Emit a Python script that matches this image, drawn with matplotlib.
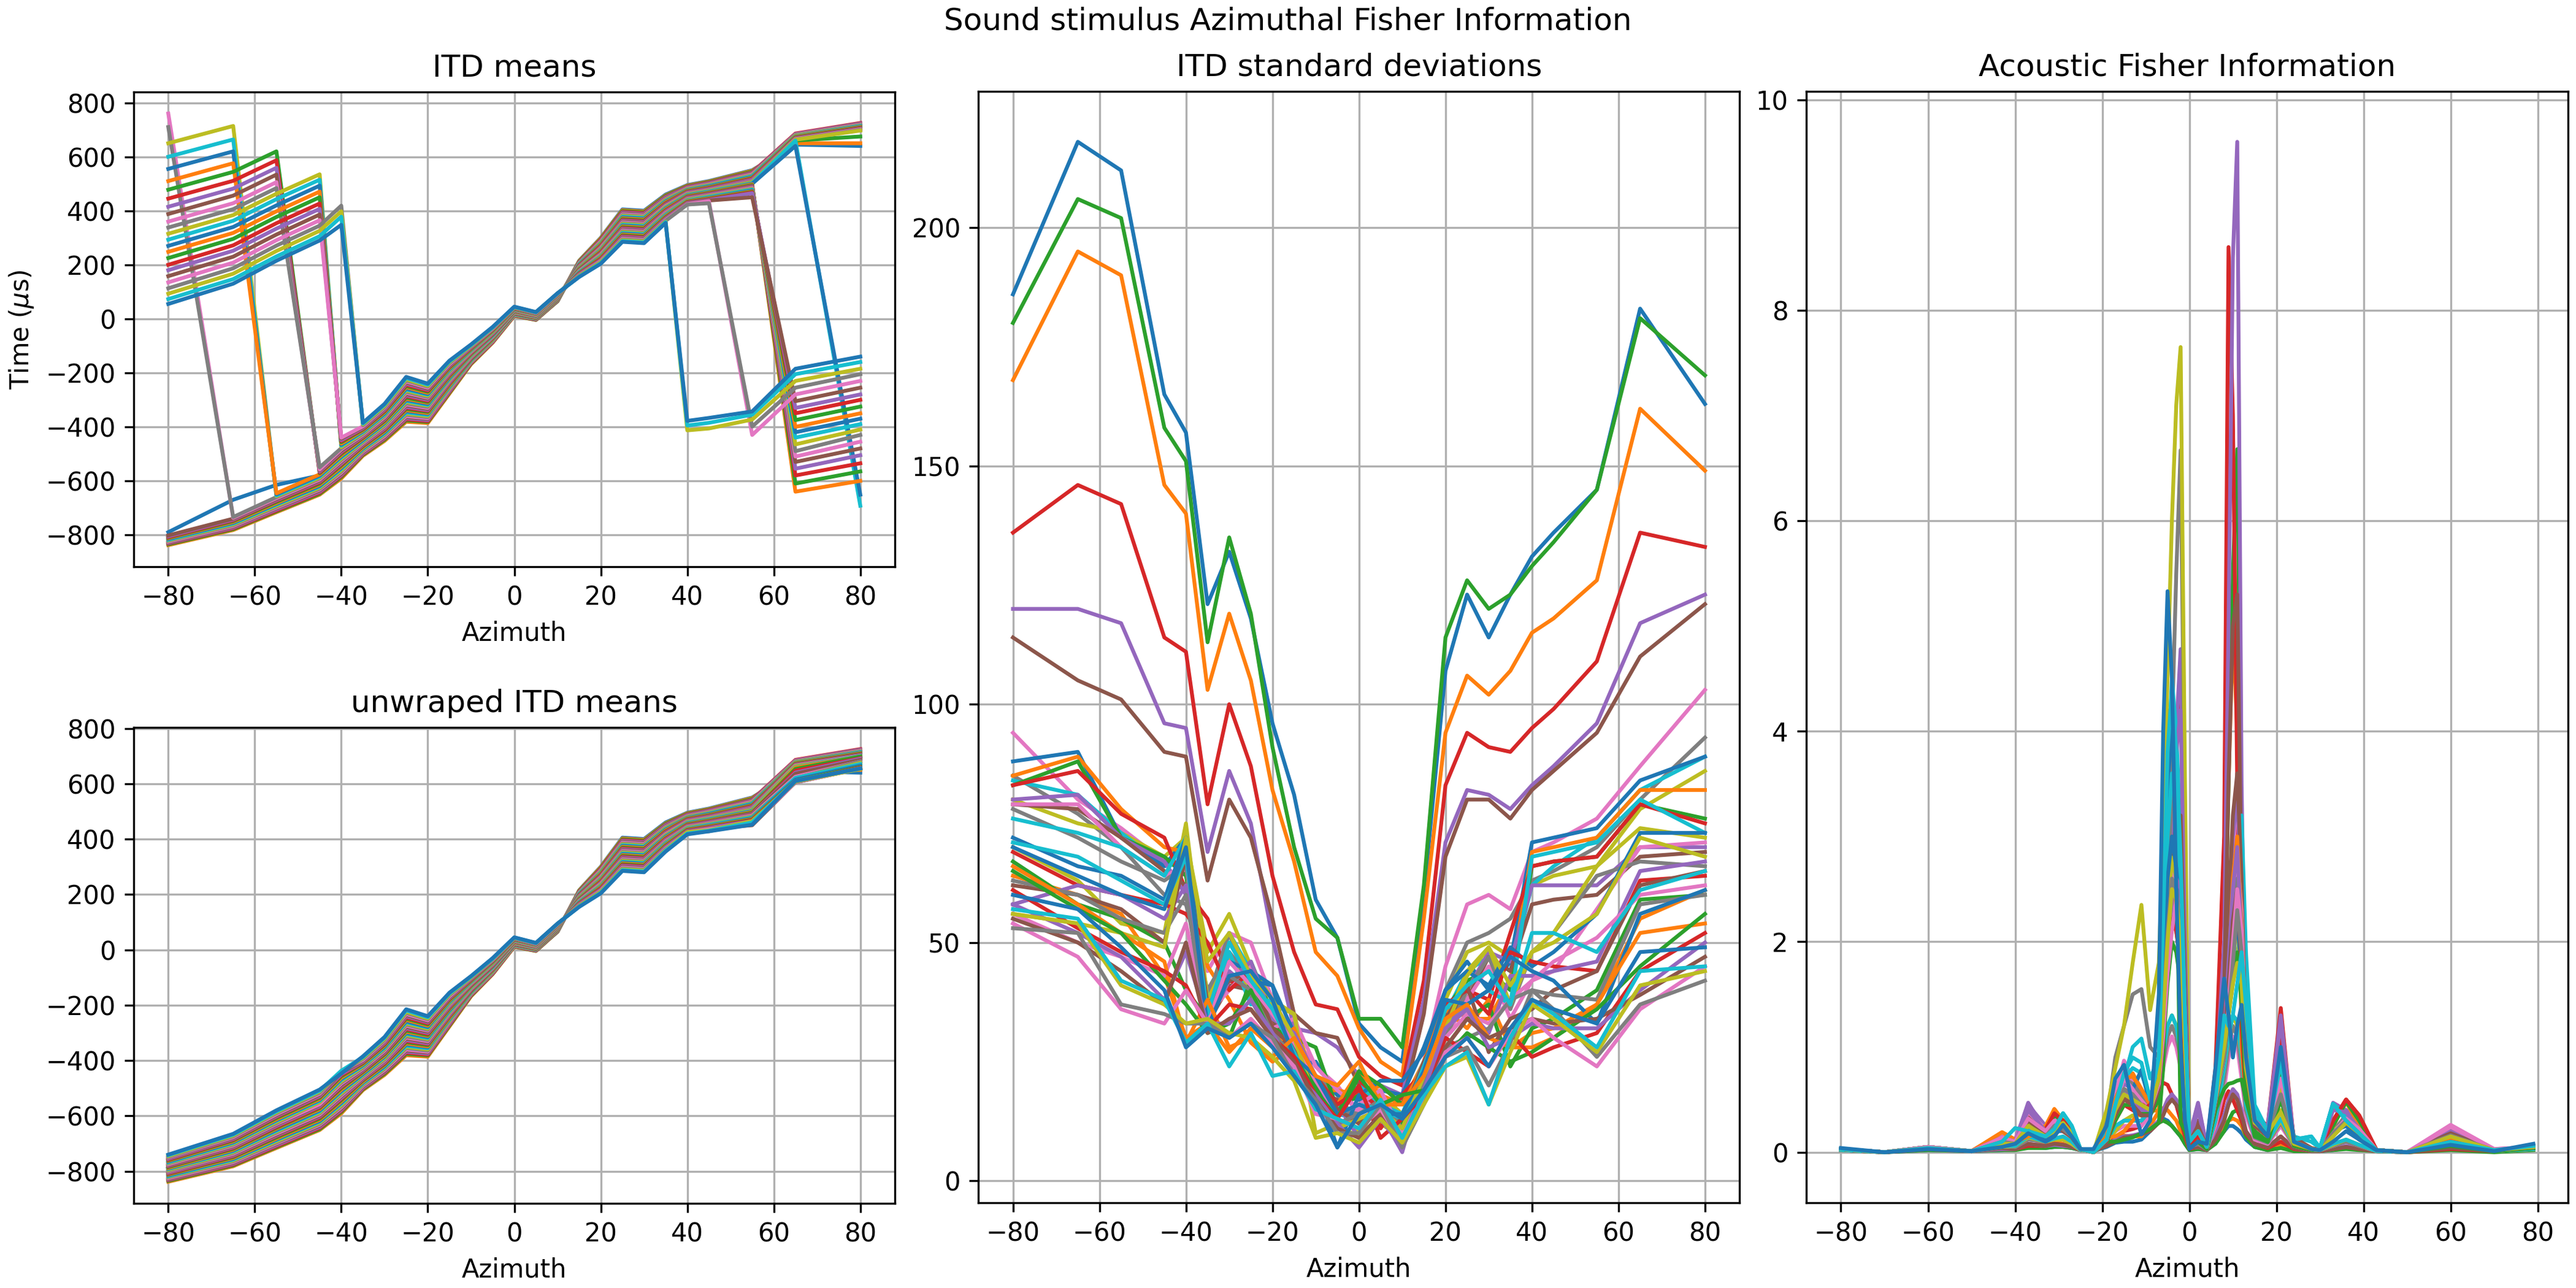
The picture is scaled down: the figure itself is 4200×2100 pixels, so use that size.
import numpy as np
import matplotlib
matplotlib.use('Agg')
import matplotlib.pyplot as plt

azimuths = [-80, -65, -55, -45, -40, -35, -30, -25, -20, -15, -10, -5, 0,
            5, 10, 15, 20, 25, 30, 35, 40, 45, 55, 65, 80]

# period of each frequency channel (us), read from the wrap jumps
channel_periods = [3320, 3130, 2960, 2800, 2650, 2520, 2400, 2285, 2180, 2085,
                   1995, 1910, 1830, 1755, 1685, 1620, 1560, 1508, 1445, 1392,
                   1345, 1298, 1263, 1227, 1195, 1166, 1135, 1110, 1085, 1061,
                   1035, 1010, 985, 958, 935, 910, 885, 861, 838, 815, 795]

# unwrapped ITD means (us): one row per azimuth, one value per channel
itd_unwrapped = [
    [-790, -838, -835, -832, -830, -828, -825, -822, -820, -818, -815, -812, -810, -808, -805, -802, -800, -798, -795, -792, -790, -788, -785, -782, -780, -778, -775, -772, -770, -768, -765, -762, -760, -758, -755, -752, -750, -748, -745, -742, -740],
    [-670, -782, -779, -776, -773, -770, -767, -764, -761, -758, -755, -752, -749, -746, -743, -740, -737, -734, -731, -728, -725, -722, -719, -716, -713, -710, -707, -704, -701, -698, -695, -692, -689, -686, -683, -680, -677, -674, -671, -668, -665],
    [-615, -716, -713, -710, -706, -702, -699, -696, -692, -688, -685, -682, -678, -674, -671, -668, -664, -660, -657, -654, -650, -646, -643, -640, -636, -632, -629, -626, -622, -618, -615, -612, -608, -604, -601, -598, -594, -590, -587, -584, -580],
    [-580, -651, -648, -644, -640, -636, -632, -629, -625, -621, -618, -614, -610, -606, -602, -599, -595, -591, -588, -584, -580, -576, -572, -569, -565, -561, -558, -550, -550, -546, -542, -539, -535, -531, -528, -524, -520, -516, -512, -509, -505],
    [-530, -591, -586, -582, -578, -574, -569, -565, -561, -556, -552, -548, -543, -539, -535, -530, -526, -522, -518, -513, -509, -505, -500, -496, -492, -488, -483, -479, -475, -470, -466, -462, -457, -453, -449, -444, -440, -442, -440, -437, -447],
    [-470, -507, -504, -501, -498, -494, -491, -488, -485, -482, -479, -476, -472, -469, -466, -463, -460, -457, -454, -451, -448, -444, -441, -438, -435, -432, -429, -426, -422, -419, -416, -413, -410, -407, -404, -401, -398, -394, -391, -388, -385],
    [-430, -452, -448, -444, -441, -438, -434, -430, -427, -424, -420, -416, -413, -410, -406, -402, -399, -396, -392, -388, -385, -382, -378, -374, -371, -368, -364, -360, -357, -354, -350, -346, -343, -340, -336, -332, -329, -326, -322, -318, -315],
    [-360, -381, -376, -372, -368, -364, -360, -355, -351, -347, -342, -338, -334, -330, -326, -321, -317, -313, -308, -304, -300, -296, -292, -287, -283, -279, -274, -270, -266, -262, -258, -253, -249, -245, -240, -236, -232, -228, -224, -219, -215],
    [-370, -386, -382, -379, -375, -371, -368, -364, -360, -356, -352, -349, -345, -341, -338, -334, -330, -326, -322, -319, -315, -311, -308, -304, -300, -296, -292, -289, -285, -281, -278, -274, -270, -266, -262, -259, -255, -251, -248, -244, -240],
    [-265, -277, -274, -271, -268, -264, -261, -258, -255, -252, -249, -246, -242, -239, -236, -233, -230, -227, -224, -221, -218, -214, -211, -208, -205, -202, -199, -196, -192, -189, -186, -183, -180, -177, -174, -171, -168, -164, -161, -158, -155],
    [-160, -168, -166, -164, -162, -161, -159, -157, -155, -153, -151, -149, -148, -146, -144, -142, -140, -138, -136, -134, -132, -131, -129, -127, -125, -123, -121, -119, -118, -116, -114, -112, -110, -108, -106, -104, -102, -101, -99, -97, -95],
    [-85, -88, -87, -86, -84, -82, -81, -80, -78, -76, -75, -74, -72, -70, -69, -68, -66, -64, -63, -62, -60, -58, -57, -56, -54, -52, -51, -50, -48, -46, -45, -44, -42, -40, -39, -38, -36, -34, -33, -32, -30],
    [15, 11, 12, 13, 14, 14, 15, 16, 17, 18, 19, 20, 20, 21, 22, 23, 24, 25, 26, 27, 28, 28, 29, 30, 31, 32, 33, 34, 34, 35, 36, 37, 38, 39, 40, 41, 42, 42, 43, 44, 45],
    [0, -4, -4, -3, -2, -1, 0, 0, 1, 2, 2, 3, 4, 5, 6, 6, 7, 8, 8, 9, 10, 11, 12, 12, 13, 14, 14, 15, 16, 17, 18, 18, 19, 20, 20, 21, 22, 23, 24, 24, 25],
    [65, 66, 66, 67, 68, 69, 70, 70, 71, 72, 72, 73, 74, 75, 76, 76, 77, 78, 78, 79, 80, 81, 82, 82, 83, 84, 84, 85, 86, 87, 88, 88, 89, 90, 90, 91, 92, 93, 94, 94, 95],
    [215, 214, 212, 210, 209, 208, 206, 204, 203, 202, 200, 198, 197, 196, 194, 192, 191, 190, 188, 186, 185, 184, 182, 180, 179, 178, 176, 174, 173, 172, 170, 168, 167, 166, 164, 162, 161, 160, 158, 156, 155],
    [300, 298, 295, 293, 290, 288, 286, 283, 281, 278, 276, 274, 271, 269, 266, 264, 262, 259, 257, 254, 252, 250, 247, 245, 242, 240, 238, 235, 233, 230, 228, 226, 223, 221, 218, 216, 214, 211, 209, 206, 204],
    [405, 402, 399, 396, 393, 390, 387, 384, 381, 378, 375, 372, 369, 366, 363, 360, 357, 354, 351, 348, 345, 342, 339, 336, 333, 330, 327, 324, 321, 318, 315, 312, 309, 306, 303, 300, 297, 294, 291, 288, 285],
    [400, 397, 394, 391, 388, 385, 382, 379, 376, 373, 370, 367, 364, 361, 358, 355, 352, 349, 346, 343, 340, 337, 334, 331, 328, 325, 322, 319, 316, 313, 310, 307, 304, 301, 298, 295, 292, 289, 286, 283, 280],
    [460, 457, 455, 452, 450, 447, 444, 442, 439, 436, 434, 431, 428, 426, 423, 421, 418, 415, 413, 410, 408, 405, 402, 400, 397, 394, 392, 389, 386, 384, 381, 379, 376, 373, 371, 368, 366, 363, 360, 358, 355],
    [495, 493, 491, 489, 487, 485, 483, 481, 479, 477, 476, 474, 472, 470, 468, 466, 464, 462, 460, 458, 456, 454, 452, 450, 448, 446, 444, 442, 440, 438, 436, 435, 433, 431, 429, 427, 425, 423, 425, 420, 417],
    [510, 508, 506, 504, 502, 500, 498, 496, 494, 492, 490, 487, 485, 483, 481, 479, 477, 475, 473, 471, 469, 467, 465, 463, 461, 459, 457, 455, 453, 451, 448, 446, 444, 442, 440, 438, 436, 428, 432, 430, 428],
    [550, 548, 545, 542, 540, 538, 535, 532, 530, 528, 525, 522, 520, 518, 515, 512, 510, 508, 505, 502, 500, 498, 495, 492, 490, 488, 485, 482, 480, 478, 475, 472, 470, 468, 465, 450, 455, 462, 465, 460, 452],
    [645, 650, 660, 686, 684, 682, 681, 680, 678, 676, 675, 674, 672, 670, 669, 668, 666, 664, 663, 660, 640, 658, 653, 647, 640, 636, 625, 620, 620, 621, 615, 610, 610, 608, 605, 605, 605, 606, 608, 610, 610],
    [640, 650, 675, 725, 723, 721, 719, 717, 715, 714, 712, 710, 708, 706, 704, 703, 701, 699, 697, 700, 694, 698, 698, 692, 690, 686, 680, 680, 675, 671, 665, 660, 660, 658, 655, 655, 655, 656, 653, 655, 655],
]

# ITD standard deviations (us): one row per channel, one value per azimuth
itd_std = [
    [186, 218, 212, 165, 157, 121, 132, 118, 96, 81, 59, 51, 33, 28, 25, 60, 107, 123, 114, 123, 131, 136, 145, 183, 163],
    [168, 195, 190, 146, 140, 103, 119, 105, 82, 67, 48, 43, 32, 25, 22, 55, 94, 106, 102, 107, 115, 118, 126, 162, 149],
    [180, 206, 202, 158, 151, 113, 135, 119, 91, 70, 55, 51, 34, 34, 28, 62, 114, 126, 120, 123, 129, 134, 145, 181, 169],
    [136, 146, 142, 114, 111, 79, 100, 87, 64, 48, 37, 36, 26, 22, 20, 42, 83, 94, 91, 90, 95, 99, 109, 136, 133],
    [120, 120, 117, 96, 95, 69, 86, 75, 51, 32, 31, 28, 22, 20, 18, 38, 71, 82, 81, 78, 83, 87, 96, 117, 123],
    [114, 105, 101, 90, 89, 63, 80, 72, 55, 35, 31, 30, 20, 18, 16, 35, 68, 80, 80, 76, 82, 86, 94, 110, 121],
    [94, 80, 74, 67, 65, 44, 52, 50, 38, 30, 24, 20, 14, 16, 12, 25, 45, 58, 60, 57, 69, 71, 76, 87, 103],
    [85, 77, 70, 60, 58, 40, 48, 42, 35, 28, 22, 18, 12, 14, 10, 24, 40, 50, 52, 55, 63, 65, 70, 80, 93],
    [80, 75, 73, 68, 72, 48, 56, 45, 38, 35, 18, 17, 10, 12, 9, 22, 38, 48, 50, 47, 62, 64, 66, 78, 86],
    [84, 81, 73, 66, 67, 38, 52, 44, 34, 22, 16, 14, 13, 15, 11, 20, 35, 44, 47, 44, 62, 66, 72, 82, 89],
    [88, 90, 72, 66, 72, 33, 46, 42, 41, 24, 25, 18, 17, 19, 18, 28, 40, 46, 40, 46, 71, 72, 74, 84, 89],
    [85, 89, 78, 70, 69, 45, 38, 29, 25, 28, 19, 19, 18, 20, 16, 25, 38, 34, 34, 42, 69, 70, 72, 82, 82],
    [83, 88, 72, 68, 64, 38, 40, 46, 35, 30, 28, 15, 18, 15, 12, 22, 36, 42, 44, 40, 66, 67, 68, 79, 76],
    [83, 86, 77, 72, 61, 55, 42, 40, 33, 26, 22, 14, 22, 11, 18, 23, 37, 40, 38, 52, 66, 67, 68, 79, 75],
    [80, 81, 72, 67, 60, 34, 44, 40, 32, 26, 20, 16, 9, 14, 6, 22, 32, 40, 48, 46, 62, 62, 62, 70, 70],
    [79, 78, 72, 65, 62, 33, 41, 40, 34, 25, 19, 17, 12, 16, 10, 21, 35, 38, 47, 44, 58, 59, 60, 68, 69],
    [79, 79, 70, 64, 66, 35, 40, 45, 32, 34, 24, 19, 15, 18, 14, 20, 30, 38, 45, 34, 42, 44, 57, 70, 71],
    [78, 72, 67, 63, 66, 38, 52, 38, 30, 26, 19, 15, 14, 17, 10, 20, 30, 40, 47, 36, 48, 52, 64, 67, 66],
    [70, 63, 54, 52, 75, 38, 47, 40, 37, 35, 10, 12, 9, 18, 14, 22, 33, 44, 49, 37, 48, 52, 66, 74, 72],
    [76, 73, 70, 64, 72, 33, 48, 37, 38, 25, 19, 15, 20, 16, 14, 25, 33, 37, 40, 37, 68, 69, 71, 80, 73],
    [72, 66, 64, 59, 72, 33, 46, 44, 41, 31, 20, 7, 18, 21, 21, 27, 40, 44, 41, 49, 45, 48, 56, 73, 73],
    [64, 60, 56, 43, 30, 33, 27, 32, 28, 32, 21, 16, 23, 18, 16, 24, 36, 32, 38, 28, 31, 32, 37, 55, 61],
    [67, 58, 55, 50, 40, 34, 30, 42, 32, 30, 20, 14, 23, 20, 16, 22, 28, 34, 37, 24, 32, 34, 40, 59, 60],
    [69, 62, 60, 58, 56, 50, 40, 44, 32, 28, 22, 16, 19, 15, 13, 24, 37, 40, 35, 48, 46, 45, 44, 63, 64],
    [58, 62, 60, 55, 62, 33, 42, 46, 34, 31, 22, 12, 13, 15, 8, 20, 33, 36, 31, 43, 43, 44, 46, 65, 67],
    [62, 60, 57, 50, 68, 37, 42, 44, 32, 28, 22, 15, 12, 16, 13, 25, 34, 41, 27, 34, 36, 40, 44, 62, 65],
    [56, 50, 47, 43, 54, 33, 46, 41, 35, 29, 21, 14, 16, 19, 10, 22, 30, 35, 33, 38, 42, 46, 51, 60, 62],
    [63, 60, 55, 52, 60, 32, 43, 40, 31, 26, 17, 12, 14, 17, 11, 21, 28, 30, 32, 38, 40, 39, 38, 58, 60],
    [56, 54, 52, 49, 72, 46, 52, 43, 38, 30, 17, 11, 13, 15, 11, 22, 32, 43, 49, 41, 48, 50, 56, 72, 68],
    [71, 68, 63, 58, 68, 35, 50, 42, 36, 27, 18, 14, 16, 15, 13, 24, 36, 41, 44, 37, 52, 52, 48, 61, 65],
    [70, 64, 60, 57, 70, 32, 43, 44, 38, 26, 22, 14, 16, 14, 14, 23, 38, 37, 40, 47, 44, 42, 33, 56, 61],
    [66, 58, 52, 46, 29, 38, 28, 30, 26, 30, 22, 20, 25, 16, 16, 22, 34, 37, 30, 28, 28, 30, 37, 52, 54],
    [65, 57, 52, 42, 37, 31, 33, 40, 30, 26, 19, 13, 22, 16, 18, 19, 26, 31, 28, 25, 27, 30, 36, 45, 56],
    [61, 53, 48, 44, 41, 32, 37, 36, 30, 26, 18, 13, 20, 9, 13, 18, 30, 27, 24, 31, 26, 28, 31, 44, 52],
    [58, 52, 47, 38, 48, 33, 33, 38, 31, 23, 18, 12, 7, 13, 7, 19, 32, 36, 28, 30, 33, 32, 32, 40, 50],
    [55, 50, 44, 37, 50, 31, 34, 36, 30, 25, 17, 11, 9, 14, 9, 17, 28, 34, 30, 32, 34, 33, 34, 39, 47],
    [54, 47, 36, 33, 40, 33, 30, 34, 29, 24, 14, 13, 11, 15, 8, 17, 27, 30, 24, 31, 34, 30, 24, 36, 45],
    [53, 52, 37, 35, 33, 33, 30, 33, 30, 22, 17, 10, 10, 16, 7, 16, 26, 28, 20, 29, 40, 36, 26, 37, 42],
    [56, 54, 41, 37, 33, 34, 31, 30, 26, 21, 9, 10, 8, 13, 8, 16, 24, 26, 16, 27, 37, 34, 27, 41, 44],
    [57, 55, 42, 38, 29, 33, 24, 31, 22, 23, 15, 13, 11, 17, 9, 18, 24, 27, 16, 30, 38, 35, 28, 44, 45],
    [60, 57, 49, 40, 28, 32, 30, 33, 28, 22, 16, 7, 14, 16, 13, 19, 26, 30, 24, 32, 38, 36, 33, 48, 49],
]

fisher_azimuths = [-80, -70, -60, -50, -43, -40, -37, -33, -31, -29, -27, -25,
                   -22, -19, -17, -15, -13, -11, -9, -7, -6, -5, -4, -3, -2, -1,
                   0, 2, 4, 6, 8, 9, 10, 11, 12, 13, 15, 18, 21, 24, 28, 30, 33,
                   36, 39, 43, 50, 60, 70, 79]

# acoustic Fisher information, one row per channel
fisher_info = [
    [0.02, 0.0, 0.02, 0.01, 0.02, 0.03, 0.05, 0.04, 0.05, 0.05, 0.04, 0.02, 0.01, 0.05, 0.09, 0.1, 0.1, 0.12, 0.2, 0.3, 0.32, 0.3, 0.25, 0.2, 0.15, 0.08, 0.02, 0.03, 0.02, 0.1, 0.2, 0.25, 0.25, 0.22, 0.18, 0.12, 0.05, 0.02, 0.06, 0.02, 0.01, 0.01, 0.02, 0.04, 0.03, 0.01, 0.0, 0.03, 0.01, 0.04],
    [0.02, 0.0, 0.03, 0.01, 0.04, 0.03, 0.06, 0.08, 0.1, 0.08, 0.05, 0.02, 0.01, 0.08, 0.15, 0.16, 0.15, 0.15, 0.25, 0.39, 0.42, 0.4, 0.35, 0.3, 0.2, 0.1, 0.03, 0.04, 0.02, 0.12, 0.25, 0.3, 0.32, 0.3, 0.25, 0.15, 0.06, 0.03, 0.08, 0.02, 0.01, 0.01, 0.03, 0.05, 0.03, 0.01, 0.0, 0.03, 0.01, 0.03],
    [0.02, 0.0, 0.02, 0.01, 0.02, 0.02, 0.04, 0.04, 0.05, 0.05, 0.04, 0.02, 0.01, 0.06, 0.1, 0.12, 0.15, 0.18, 0.22, 0.28, 0.3, 0.28, 0.25, 0.2, 0.15, 0.08, 0.02, 0.03, 0.02, 0.08, 0.2, 0.3, 0.38, 0.4, 0.3, 0.15, 0.05, 0.02, 0.04, 0.01, 0.01, 0.01, 0.02, 0.03, 0.02, 0.01, 0.0, 0.02, 0.0, 0.02],
    [0.02, 0.0, 0.03, 0.01, 0.03, 0.03, 0.06, 0.06, 0.08, 0.07, 0.05, 0.02, 0.01, 0.08, 0.14, 0.2, 0.22, 0.25, 0.4, 0.6, 0.66, 0.64, 0.55, 0.45, 0.3, 0.15, 0.03, 0.05, 0.02, 0.15, 0.5, 0.58, 0.5, 0.4, 0.3, 0.18, 0.08, 0.04, 0.1, 0.03, 0.01, 0.01, 0.03, 0.05, 0.03, 0.01, 0.0, 0.03, 0.01, 0.03],
    [0.02, 0.0, 0.03, 0.01, 0.03, 0.03, 0.08, 0.06, 0.07, 0.06, 0.05, 0.02, 0.01, 0.07, 0.12, 0.15, 0.16, 0.18, 0.22, 0.3, 0.4, 0.5, 0.55, 0.5, 0.4, 0.2, 0.04, 0.05, 0.02, 0.15, 0.35, 0.5, 0.6, 0.55, 0.4, 0.2, 0.08, 0.05, 0.15, 0.04, 0.01, 0.01, 0.03, 0.06, 0.04, 0.01, 0.0, 0.05, 0.01, 0.03],
    [0.02, 0.0, 0.03, 0.01, 0.04, 0.03, 0.08, 0.06, 0.08, 0.07, 0.05, 0.02, 0.01, 0.06, 0.1, 0.14, 0.15, 0.17, 0.2, 0.28, 0.35, 0.45, 0.5, 0.45, 0.38, 0.2, 0.04, 0.05, 0.02, 0.12, 0.3, 0.45, 0.55, 0.5, 0.35, 0.2, 0.08, 0.05, 0.15, 0.04, 0.01, 0.01, 0.03, 0.05, 0.03, 0.01, 0.0, 0.04, 0.01, 0.03],
    [0.02, 0.0, 0.04, 0.01, 0.06, 0.05, 0.12, 0.1, 0.15, 0.12, 0.08, 0.02, 0.01, 0.1, 0.2, 0.25, 0.25, 0.25, 0.35, 0.55, 0.8, 1.0, 1.1, 1.0, 0.8, 0.4, 0.05, 0.08, 0.03, 0.25, 0.6, 0.9, 1.1, 1.0, 0.7, 0.35, 0.12, 0.08, 0.25, 0.06, 0.02, 0.02, 0.06, 0.1, 0.06, 0.01, 0.0, 0.08, 0.01, 0.03],
    [0.02, 0.0, 0.04, 0.01, 0.05, 0.05, 0.12, 0.1, 0.14, 0.12, 0.08, 0.02, 0.01, 0.1, 0.22, 0.3, 0.3, 0.3, 0.4, 0.6, 0.85, 1.1, 1.2, 1.1, 0.9, 0.45, 0.05, 0.08, 0.03, 0.3, 0.7, 1.0, 1.2, 1.1, 0.8, 0.4, 0.14, 0.09, 0.28, 0.06, 0.02, 0.02, 0.06, 0.1, 0.06, 0.01, 0.0, 0.08, 0.01, 0.03],
    [0.02, 0.0, 0.04, 0.01, 0.05, 0.06, 0.14, 0.1, 0.12, 0.12, 0.08, 0.02, 0.01, 0.1, 0.2, 0.3, 0.35, 0.35, 0.45, 0.7, 1.0, 1.2, 1.3, 1.2, 1.0, 0.5, 0.06, 0.1, 0.03, 0.3, 0.8, 1.1, 1.3, 1.2, 0.9, 0.45, 0.15, 0.1, 0.3, 0.07, 0.02, 0.02, 0.07, 0.12, 0.07, 0.01, 0.0, 0.09, 0.01, 0.03],
    [0.02, 0.0, 0.04, 0.01, 0.06, 0.06, 0.15, 0.1, 0.13, 0.15, 0.1, 0.02, 0.01, 0.1, 0.25, 0.3, 0.3, 0.3, 0.4, 0.65, 0.95, 1.2, 1.3, 1.2, 0.95, 0.5, 0.06, 0.1, 0.03, 0.3, 0.8, 1.1, 1.3, 1.25, 0.9, 0.45, 0.15, 0.1, 0.32, 0.08, 0.02, 0.02, 0.08, 0.12, 0.07, 0.01, 0.0, 0.1, 0.01, 0.03],
    [0.03, 0.0, 0.04, 0.01, 0.1, 0.08, 0.2, 0.15, 0.22, 0.2, 0.15, 0.03, 0.0, 0.12, 0.45, 0.7, 0.6, 0.45, 0.4, 0.9, 1.8, 2.6, 3.0, 2.8, 2.4, 1.2, 0.1, 0.2, 0.05, 0.5, 1.2, 2.0, 2.6, 2.8, 2.1, 1.1, 0.35, 0.2, 0.7, 0.1, 0.03, 0.02, 0.2, 0.3, 0.15, 0.02, 0.0, 0.12, 0.02, 0.05],
    [0.03, 0.0, 0.04, 0.01, 0.18, 0.1, 0.15, 0.2, 0.41, 0.3, 0.2, 0.03, 0.0, 0.14, 0.15, 0.2, 0.3, 0.4, 0.39, 0.4, 2.5, 4.2, 3.6, 2.8, 2.2, 1.0, 0.1, 0.2, 0.05, 0.6, 1.8, 3.5, 4.99, 4.0, 1.0, 0.5, 0.3, 0.2, 0.8, 0.12, 0.04, 0.02, 0.25, 0.5, 0.2, 0.02, 0.0, 0.18, 0.02, 0.05],
    [0.03, 0.0, 0.05, 0.01, 0.1, 0.12, 0.2, 0.25, 0.35, 0.3, 0.2, 0.03, 0.0, 0.1, 0.1, 0.12, 0.14, 0.18, 0.22, 0.28, 0.8, 2.5, 3.9, 3.0, 0.28, 0.2, 0.05, 0.1, 0.03, 0.4, 1.5, 3.5, 5.5, 6.68, 3.0, 0.6, 0.15, 0.1, 1.2, 0.1, 0.03, 0.02, 0.3, 0.48, 0.3, 0.02, 0.0, 0.06, 0.01, 0.04],
    [0.03, 0.0, 0.05, 0.01, 0.12, 0.1, 0.18, 0.2, 0.37, 0.3, 0.2, 0.03, 0.0, 0.12, 0.3, 0.45, 0.4, 0.35, 0.5, 0.68, 1.5, 2.5, 3.5, 4.0, 4.44, 2.0, 0.1, 0.2, 0.05, 0.8, 3.0, 8.6, 7.0, 3.5, 1.2, 0.5, 0.35, 0.25, 1.37, 0.1, 0.03, 0.03, 0.3, 0.5, 0.3, 0.02, 0.0, 0.12, 0.02, 0.05],
    [0.03, 0.0, 0.05, 0.01, 0.12, 0.1, 0.47, 0.2, 0.25, 0.2, 0.15, 0.03, 0.0, 0.12, 0.4, 0.55, 0.5, 0.4, 0.5, 0.8, 1.4, 2.2, 3.2, 4.0, 4.78, 2.5, 0.15, 0.47, 0.05, 0.6, 2.0, 5.0, 8.5, 9.6, 3.5, 0.8, 0.3, 0.25, 1.3, 0.1, 0.03, 0.03, 0.47, 0.4, 0.25, 0.02, 0.0, 0.22, 0.02, 0.05],
    [0.03, 0.0, 0.04, 0.01, 0.14, 0.1, 0.3, 0.2, 0.28, 0.22, 0.15, 0.03, 0.0, 0.12, 0.35, 0.55, 0.45, 0.35, 0.4, 0.7, 1.3, 2.0, 2.8, 3.2, 3.42, 1.8, 0.1, 0.3, 0.05, 0.5, 1.5, 3.5, 5.0, 5.3, 2.5, 0.7, 0.3, 0.2, 1.02, 0.12, 0.03, 0.02, 0.2, 0.3, 0.2, 0.02, 0.0, 0.2, 0.02, 0.05],
    [0.03, 0.0, 0.05, 0.01, 0.15, 0.12, 0.35, 0.2, 0.3, 0.25, 0.18, 0.03, 0.0, 0.15, 0.55, 0.87, 0.7, 0.5, 0.4, 0.7, 1.2, 1.8, 2.3, 2.8, 2.7, 1.4, 0.1, 0.2, 0.05, 0.5, 1.2, 2.0, 2.8, 3.46, 2.5, 0.9, 0.3, 0.2, 0.8, 0.1, 0.03, 0.02, 0.2, 0.35, 0.2, 0.02, 0.0, 0.25, 0.03, 0.05],
    [0.03, 0.0, 0.05, 0.01, 0.12, 0.1, 0.3, 0.2, 0.3, 0.25, 0.18, 0.03, 0.0, 0.3, 0.9, 1.2, 1.5, 1.55, 1.0, 0.9, 1.5, 2.5, 4.0, 5.5, 6.67, 3.0, 0.1, 0.2, 0.05, 0.6, 1.1, 1.5, 2.2, 2.9, 3.17, 1.5, 0.4, 0.2, 0.7, 0.1, 0.03, 0.02, 0.2, 0.3, 0.2, 0.02, 0.0, 0.18, 0.02, 0.05],
    [0.03, 0.0, 0.05, 0.01, 0.1, 0.1, 0.27, 0.2, 0.25, 0.3, 0.2, 0.03, 0.0, 0.4, 0.8, 1.2, 1.8, 2.35, 1.35, 1.8, 3.0, 4.5, 6.0, 7.1, 7.65, 3.5, 0.1, 0.2, 0.05, 0.5, 1.0, 1.3, 1.6, 1.9, 2.1, 1.2, 0.35, 0.2, 0.4, 0.08, 0.03, 0.02, 0.15, 0.3, 0.2, 0.02, 0.0, 0.2, 0.02, 0.05],
    [0.03, 0.0, 0.05, 0.01, 0.1, 0.1, 0.23, 0.2, 0.25, 0.37, 0.25, 0.03, 0.0, 0.2, 0.4, 0.7, 1.0, 1.08, 0.7, 0.9, 2.0, 3.5, 4.5, 4.0, 3.0, 1.5, 0.1, 0.2, 0.05, 0.5, 1.37, 1.3, 1.6, 2.5, 3.2, 1.9, 0.45, 0.2, 0.8, 0.15, 0.1, 0.04, 0.46, 0.35, 0.2, 0.02, 0.0, 0.18, 0.02, 0.05],
    [0.03, 0.0, 0.04, 0.01, 0.12, 0.1, 0.2, 0.15, 0.2, 0.2, 0.15, 0.03, 0.0, 0.15, 0.5, 0.75, 0.6, 0.78, 0.5, 0.8, 2.0, 3.5, 4.0, 3.6, 3.0, 1.4, 0.1, 0.2, 0.05, 0.5, 1.2, 1.8, 2.4, 2.8, 2.0, 1.0, 0.35, 0.2, 0.8, 0.1, 0.03, 0.02, 0.2, 0.3, 0.15, 0.02, 0.0, 0.1, 0.02, 0.05],
    [0.03, 0.0, 0.04, 0.01, 0.19, 0.12, 0.2, 0.25, 0.4, 0.3, 0.2, 0.03, 0.0, 0.15, 0.45, 0.7, 0.75, 0.6, 0.45, 0.8, 1.5, 2.4, 2.9, 2.7, 2.2, 1.1, 0.1, 0.2, 0.05, 0.5, 1.1, 1.8, 2.5, 2.9, 2.2, 1.0, 0.35, 0.2, 0.7, 0.1, 0.03, 0.02, 0.25, 0.48, 0.25, 0.02, 0.0, 0.15, 0.02, 0.05],
    [0.03, 0.0, 0.04, 0.01, 0.1, 0.08, 0.2, 0.2, 0.35, 0.3, 0.2, 0.03, 0.0, 0.1, 0.35, 0.55, 0.5, 0.4, 0.35, 0.6, 1.2, 1.9, 2.3, 2.1, 1.8, 0.9, 0.08, 0.15, 0.04, 0.4, 0.6, 0.65, 0.66, 0.68, 0.69, 0.5, 0.2, 0.1, 0.5, 0.08, 0.03, 0.02, 0.25, 0.48, 0.3, 0.02, 0.0, 0.1, 0.01, 0.04],
    [0.03, 0.0, 0.04, 0.01, 0.12, 0.1, 0.2, 0.25, 0.37, 0.3, 0.2, 0.03, 0.0, 0.12, 0.4, 0.6, 0.55, 0.45, 0.5, 0.68, 1.2, 2.0, 2.5, 2.4, 2.1, 1.0, 0.1, 0.2, 0.05, 0.59, 1.2, 1.8, 2.4, 2.6, 1.9, 0.9, 0.3, 0.2, 1.0, 0.1, 0.03, 0.02, 0.3, 0.5, 0.35, 0.02, 0.0, 0.14, 0.02, 0.05],
    [0.03, 0.0, 0.05, 0.01, 0.14, 0.12, 0.45, 0.25, 0.3, 0.25, 0.18, 0.03, 0.0, 0.12, 0.45, 0.65, 0.6, 0.45, 0.4, 0.7, 1.5, 2.4, 3.2, 3.8, 4.2, 2.0, 0.12, 0.45, 0.05, 0.5, 1.3, 2.2, 3.0, 3.4, 2.4, 1.0, 0.35, 0.22, 1.2, 0.1, 0.03, 0.03, 0.45, 0.4, 0.25, 0.02, 0.0, 0.24, 0.02, 0.05],
    [0.03, 0.0, 0.05, 0.01, 0.16, 0.12, 0.35, 0.2, 0.28, 0.22, 0.16, 0.03, 0.0, 0.12, 0.4, 0.6, 0.5, 0.4, 0.4, 0.7, 1.3, 2.1, 2.7, 3.0, 3.2, 1.6, 0.1, 0.3, 0.05, 0.5, 1.3, 2.3, 3.2, 3.6, 2.6, 1.0, 0.3, 0.2, 1.0, 0.14, 0.04, 0.02, 0.2, 0.3, 0.2, 0.02, 0.0, 0.22, 0.02, 0.05],
    [0.03, 0.0, 0.05, 0.01, 0.16, 0.12, 0.38, 0.22, 0.32, 0.26, 0.18, 0.03, 0.0, 0.15, 0.5, 0.8, 0.65, 0.5, 0.45, 0.75, 1.3, 2.0, 2.5, 2.8, 2.6, 1.3, 0.1, 0.2, 0.05, 0.55, 1.0, 1.6, 2.2, 2.8, 2.3, 1.0, 0.3, 0.2, 0.75, 0.1, 0.03, 0.02, 0.2, 0.35, 0.25, 0.02, 0.0, 0.26, 0.03, 0.05],
    [0.03, 0.0, 0.05, 0.01, 0.12, 0.1, 0.3, 0.2, 0.28, 0.25, 0.18, 0.03, 0.0, 0.15, 0.5, 0.7, 0.65, 0.55, 0.45, 0.8, 1.6, 2.6, 3.4, 3.5, 2.1, 1.2, 0.1, 0.2, 0.05, 0.6, 0.93, 1.4, 2.0, 2.6, 2.2, 1.0, 0.3, 0.2, 0.6, 0.1, 0.03, 0.02, 0.2, 0.35, 0.2, 0.02, 0.0, 0.18, 0.02, 0.05],
    [0.03, 0.0, 0.05, 0.01, 0.1, 0.1, 0.27, 0.2, 0.25, 0.3, 0.2, 0.03, 0.0, 0.15, 0.45, 0.6, 0.55, 0.45, 0.4, 0.75, 1.4, 2.2, 2.8, 2.6, 2.2, 1.1, 0.1, 0.2, 0.05, 0.5, 1.1, 1.5, 1.9, 2.1, 1.8, 0.9, 0.3, 0.2, 0.6, 0.1, 0.03, 0.02, 0.2, 0.3, 0.2, 0.02, 0.0, 0.18, 0.02, 0.05],
    [0.03, 0.0, 0.05, 0.01, 0.12, 0.1, 0.23, 0.2, 0.25, 0.37, 0.25, 0.03, 0.0, 0.15, 0.45, 0.7, 0.8, 0.75, 0.5, 0.85, 1.8, 3.0, 3.6, 3.3, 2.6, 1.3, 0.1, 0.2, 0.05, 0.5, 1.2, 1.5, 1.7, 1.85, 1.9, 1.3, 0.35, 0.2, 0.8, 0.12, 0.15, 0.04, 0.46, 0.35, 0.2, 0.02, 0.0, 0.15, 0.02, 0.05],
    [0.03, 0.0, 0.04, 0.01, 0.1, 0.08, 0.18, 0.12, 0.2, 0.25, 0.18, 0.03, 0.0, 0.15, 0.5, 0.7, 0.6, 0.78, 0.45, 0.7, 1.6, 2.6, 3.0, 2.7, 2.2, 1.1, 0.1, 0.2, 0.05, 0.5, 1.2, 1.6, 2.0, 2.2, 1.7, 0.9, 0.3, 0.2, 0.8, 0.1, 0.03, 0.02, 0.2, 0.25, 0.12, 0.02, 0.0, 0.1, 0.02, 0.05],
    [0.03, 0.0, 0.04, 0.01, 0.19, 0.12, 0.18, 0.25, 0.41, 0.3, 0.2, 0.03, 0.0, 0.15, 0.5, 0.7, 0.72, 0.6, 0.45, 0.6, 1.3, 2.0, 2.5, 2.3, 1.9, 0.9, 0.1, 0.2, 0.05, 0.5, 1.0, 1.7, 2.6, 3.0, 2.1, 1.0, 0.3, 0.2, 0.7, 0.1, 0.03, 0.02, 0.25, 0.48, 0.25, 0.02, 0.0, 0.12, 0.02, 0.05],
    [0.03, 0.0, 0.04, 0.01, 0.08, 0.08, 0.18, 0.2, 0.35, 0.3, 0.2, 0.03, 0.0, 0.1, 0.3, 0.45, 0.45, 0.4, 0.35, 0.5, 1.0, 1.6, 2.0, 1.9, 1.6, 0.8, 0.06, 0.1, 0.04, 0.45, 0.9, 1.3, 1.7, 1.9, 1.4, 0.6, 0.2, 0.1, 0.8, 0.06, 0.02, 0.02, 0.25, 0.48, 0.3, 0.02, 0.0, 0.08, 0.01, 0.04],
    [0.03, 0.0, 0.04, 0.01, 0.1, 0.08, 0.18, 0.22, 0.37, 0.3, 0.2, 0.03, 0.0, 0.12, 0.4, 0.55, 0.5, 0.4, 0.45, 0.6, 1.1, 1.8, 2.2, 2.1, 1.8, 0.9, 0.08, 0.15, 0.05, 0.5, 1.0, 1.5, 2.1, 2.4, 1.8, 0.8, 0.25, 0.15, 1.1, 0.08, 0.03, 0.02, 0.3, 0.5, 0.35, 0.02, 0.0, 0.1, 0.02, 0.05],
    [0.03, 0.0, 0.04, 0.01, 0.12, 0.1, 0.4, 0.2, 0.25, 0.2, 0.15, 0.03, 0.0, 0.1, 0.4, 0.6, 0.5, 0.4, 0.4, 0.6, 1.2, 1.9, 2.4, 2.6, 2.5, 1.3, 0.1, 0.4, 0.05, 0.5, 1.1, 1.8, 2.5, 2.9, 2.0, 0.9, 0.3, 0.2, 1.25, 0.1, 0.03, 0.02, 0.4, 0.38, 0.22, 0.02, 0.0, 0.2, 0.02, 0.05],
    [0.03, 0.0, 0.04, 0.01, 0.14, 0.1, 0.3, 0.18, 0.25, 0.2, 0.14, 0.03, 0.0, 0.1, 0.35, 0.5, 0.45, 0.35, 0.35, 0.6, 1.1, 1.7, 2.2, 2.3, 2.2, 1.1, 0.1, 0.25, 0.05, 0.45, 1.0, 1.6, 2.2, 2.5, 1.8, 0.8, 0.25, 0.15, 0.9, 0.1, 0.03, 0.02, 0.18, 0.28, 0.18, 0.02, 0.0, 0.18, 0.02, 0.05],
    [0.03, 0.0, 0.05, 0.01, 0.14, 0.1, 0.32, 0.2, 0.3, 0.24, 0.16, 0.03, 0.0, 0.12, 0.45, 0.7, 0.6, 0.45, 0.4, 0.65, 1.1, 1.7, 2.1, 2.4, 2.3, 1.2, 0.1, 0.2, 0.05, 0.5, 0.9, 1.4, 2.0, 2.5, 2.1, 0.9, 0.28, 0.18, 0.7, 0.1, 0.03, 0.02, 0.18, 0.32, 0.22, 0.02, 0.0, 0.24, 0.03, 0.05],
    [0.03, 0.0, 0.04, 0.01, 0.1, 0.08, 0.25, 0.15, 0.25, 0.22, 0.15, 0.03, 0.0, 0.12, 0.4, 0.6, 0.55, 0.45, 0.4, 0.7, 1.3, 2.1, 2.6, 2.5, 2.1, 1.0, 0.1, 0.2, 0.05, 0.55, 0.9, 1.3, 1.8, 2.3, 1.9, 0.9, 0.28, 0.18, 0.55, 0.1, 0.03, 0.02, 0.18, 0.3, 0.18, 0.02, 0.0, 0.16, 0.02, 0.05],
    [0.03, 0.0, 0.04, 0.01, 0.08, 0.08, 0.25, 0.15, 0.2, 0.28, 0.18, 0.03, 0.0, 0.12, 0.4, 0.55, 0.5, 0.45, 0.4, 0.7, 1.3, 2.0, 2.5, 2.4, 2.0, 1.0, 0.1, 0.2, 0.05, 0.5, 1.0, 1.3, 1.6, 1.8, 1.6, 0.8, 0.28, 0.18, 0.38, 0.08, 0.03, 0.02, 0.15, 0.28, 0.18, 0.02, 0.0, 0.15, 0.02, 0.05],
    [0.03, 0.0, 0.04, 0.01, 0.1, 0.23, 0.2, 0.15, 0.22, 0.37, 0.25, 0.03, 0.0, 0.12, 0.45, 0.75, 0.9, 0.85, 0.5, 0.9, 2.2, 3.8, 4.4, 3.8, 2.8, 1.3, 0.1, 0.2, 0.05, 0.5, 1.3, 1.2, 1.3, 1.6, 1.9, 1.4, 0.4, 0.2, 0.85, 0.12, 0.15, 0.04, 0.46, 0.3, 0.18, 0.02, 0.0, 0.1, 0.02, 0.06],
    [0.04, 0.0, 0.03, 0.01, 0.05, 0.08, 0.18, 0.1, 0.15, 0.26, 0.15, 0.03, 0.03, 0.25, 0.7, 0.83, 0.45, 0.17, 0.3, 1.5, 4.0, 5.33, 4.5, 2.5, 1.0, 0.3, 0.03, 0.1, 0.08, 0.8, 1.65, 1.3, 0.9, 1.2, 1.4, 0.9, 0.3, 0.15, 1.0, 0.1, 0.03, 0.02, 0.1, 0.2, 0.12, 0.02, 0.0, 0.07, 0.01, 0.08],
]

# the "ITD means" panel shows each channel wrapped into one period
itd = np.array(itd_unwrapped, dtype=float).T
periods = np.array(channel_periods, dtype=float)[:, None]
itd_wrapped = np.mod(itd + periods / 2, periods) - periods / 2

fig = plt.figure(figsize=(14, 7), dpi=300)
ax_mean = fig.add_axes([0.0519, 0.560, 0.2955, 0.3686])
ax_unwr = fig.add_axes([0.0519, 0.0657, 0.2955, 0.3695])
ax_std = fig.add_axes([0.3798, 0.0662, 0.2955, 0.8629])
ax_fi = fig.add_axes([0.7012, 0.0662, 0.2957, 0.8629])

for row in itd_wrapped:
    ax_mean.plot(azimuths, row)
ax_mean.set_title("ITD means")
ax_mean.set_ylabel(r"Time ($\mu$s)")
ax_mean.set_xlabel("Azimuth")

for row in itd:
    ax_unwr.plot(azimuths, row)
ax_unwr.set_title("unwraped ITD means")
ax_unwr.set_xlabel("Azimuth")

for row in itd_std:
    ax_std.plot(azimuths, row)
ax_std.set_title("ITD standard deviations")
ax_std.set_xlabel("Azimuth")

for row in fisher_info:
    ax_fi.plot(fisher_azimuths, row)
ax_fi.set_title("Acoustic Fisher Information")
ax_fi.set_xlabel("Azimuth")

for ax in (ax_mean, ax_unwr, ax_std, ax_fi):
    ax.set_xticks([-80, -60, -40, -20, 0, 20, 40, 60, 80])
    ax.grid()

fig.suptitle("Sound stimulus Azimuthal Fisher Information", y=0.995)
fig.savefig("out.png")
